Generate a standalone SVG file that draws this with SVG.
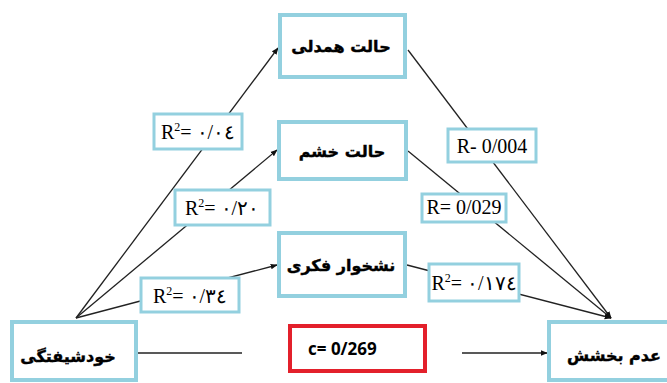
<svg xmlns="http://www.w3.org/2000/svg" width="667" height="383" viewBox="0 0 667 383">
<style>
.node{fill:#fff;stroke:#93D0DF;stroke-width:4}
.lab{fill:#fff;stroke:#93D0DF;stroke-width:3}
.fa{font-family:"DejaVu Sans",sans-serif;font-weight:bold;font-size:16px;fill:#000;text-anchor:middle;stroke:#000;stroke-width:0.4}
.rt{font-family:"Liberation Serif","DejaVu Serif",serif;font-size:20px;fill:#000;text-anchor:middle}
.ln{stroke:#222;stroke-width:1.3;fill:none}
</style>
<defs>
<marker id="ah" viewBox="0 0 10 10" refX="9" refY="5" markerWidth="7" markerHeight="7" orient="auto" markerUnits="userSpaceOnUse">
<path d="M0,1 L10,5 L0,9 z" fill="#111"/>
</marker>
</defs>
<rect width="667" height="383" fill="#fff"/>
<g id="connectors">
<line class="ln" x1="76" y1="318" x2="278" y2="48" marker-end="url(#ah)"/>
<line class="ln" x1="76" y1="318" x2="277" y2="150" marker-end="url(#ah)"/>
<line class="ln" x1="76" y1="318" x2="277" y2="265" marker-end="url(#ah)"/>
<line class="ln" x1="408" y1="50" x2="611" y2="318" marker-end="url(#ah)"/>
<line class="ln" x1="408" y1="151" x2="611" y2="318" marker-end="url(#ah)"/>
<line class="ln" x1="407" y1="265" x2="611" y2="318" marker-end="url(#ah)"/>
<line class="ln" x1="138" y1="353" x2="242" y2="353"/>
<line class="ln" x1="462" y1="353" x2="547" y2="353" marker-end="url(#ah)"/>
</g>
<g id="lbl1"><rect class="lab" x="154" y="114" width="88" height="35"/><text class="rt" x="198" y="139">R<tspan font-size="12" dy="-8">2</tspan><tspan dy="8">=  ٠/٠٤</tspan></text></g>
<g id="lbl2"><rect class="lab" x="175" y="190" width="95" height="35"/><text class="rt" x="222" y="215">R<tspan font-size="12" dy="-8">2</tspan><tspan dy="8">=  ٠/٢٠</tspan></text></g>
<g id="lbl3"><rect class="lab" x="141" y="278" width="98" height="34"/><text class="rt" x="190" y="303">R<tspan font-size="12" dy="-8">2</tspan><tspan dy="8">=  ٠/٣٤</tspan></text></g>
<g id="lbl4"><rect class="lab" x="448" y="129" width="88" height="33"/><text class="rt" x="492" y="153" font-size="21">R- 0/004</text></g>
<g id="lbl5"><rect class="lab" x="422" y="194" width="84" height="28"/><text class="rt" x="464" y="214" font-size="16">R= 0/029</text></g>
<g id="lbl6"><rect class="lab" x="429" y="264" width="90" height="37"/><text class="rt" x="474" y="290">R<tspan font-size="12" dy="-8">2</tspan><tspan dy="8">= ٠/١٧٤</tspan></text></g>
<g id="n1"><rect class="node" x="280" y="15" width="125" height="62"/><text class="fa" x="341" y="52">حالت همدلی</text></g>
<g id="n2"><rect class="node" x="279" y="122" width="127" height="57"/><text class="fa" x="342" y="157">حالت خشم</text></g>
<g id="n3"><rect class="node" x="279" y="233" width="126" height="63"/><text class="fa" x="341" y="271">نشخوار فکری</text></g>
<g id="n4"><rect class="node" x="12" y="322" width="124" height="58"/><text class="fa" x="68" y="362">خودشیفتگی</text></g>
<g id="n5"><rect class="node" x="549" y="322" width="122" height="58"/><text class="fa" x="614" y="361">عدم بخشش</text></g>
<g id="c"><rect x="290" y="326" width="135" height="45" fill="#fff" stroke="#E3202B" stroke-width="4"/><text x="308" y="355" font-family="'Open Sans','Liberation Sans',sans-serif" font-weight="bold" font-size="17">c= 0/269</text></g>
</svg>
